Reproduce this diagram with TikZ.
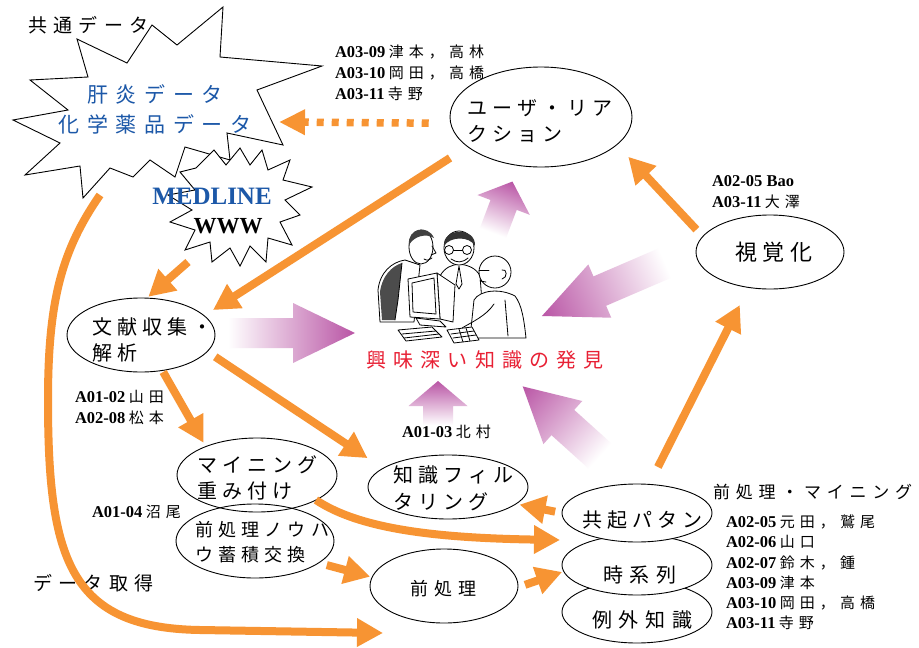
\documentclass[tikz,border=0pt]{standalone}
\usepackage{fontspec}
\setmainfont{Noto Sans CJK JP}
\newfontfamily\lat{Liberation Serif}
\newfontfamily\jpA{Noto Sans CJK JP}[LetterSpace=26]
\newfontfamily\jpB{Noto Sans CJK JP}[LetterSpace=34]
\newfontfamily\jpK{Noto Sans CJK JP}[LetterSpace=29]
\newfontfamily\jpC{Noto Sans CJK JP}[LetterSpace=36]
\newfontfamily\jpL{Noto Sans CJK JP}[LetterSpace=34]
\usetikzlibrary{arrows.meta,shapes.geometric}

\definecolor{aorange}{RGB}{247,148,51}
\definecolor{apurple}{RGB}{185,85,165}
\definecolor{jblue}{RGB}{28,88,168}
\definecolor{jred}{RGB}{232,32,52}

\tikzset{
  bub/.style={draw=black, line width=0.9pt, fill=white, ellipse, inner sep=0pt, outer sep=0pt},
  bubopen/.style={draw=black, line width=0.9pt, ellipse, inner sep=0pt, outer sep=0pt},
  txt/.style={inner sep=0pt, outer sep=0pt, anchor=west, align=left},
  bubtext/.style={txt, font=\jpA\fontsize{20}{26}\selectfont},
  labtext/.style={txt, font=\fontsize{15}{21}\selectfont},
  flow/.style={draw=aorange, line width=8pt, -{Triangle[length=26pt,width=27pt]}},
  dotflow/.style={draw=aorange, line width=7.5pt, dash pattern=on 7pt off 8pt,
                  -{Triangle[length=26pt,width=24pt]}},
  burst/.style={draw=black, line width=0.9pt, fill=white, line join=miter},
  sketch/.style={draw=black, line width=0.8pt, line join=round, line cap=round}
}

% broad shaded arrow: tail x, tail y, angle, length, head length, shaft half width, head half width
\newcommand\fatarrow[7]{%
  \begin{scope}[transform canvas={shift={(#1,#2)},rotate=#3}]
    \shade[left color=white,right color=apurple]
      (0,-#6) -- ({#4-#5},-#6) -- ({#4-#5},-#7) -- (#4,0)
      -- ({#4-#5},#7) -- ({#4-#5},#6) -- (0,#6) -- cycle;
  \end{scope}}

\newcommand\latb{\lat\bfseries\fontsize{16.5}{21}\selectfont}
\newcommand\lab[2]{{\latb #1} {\jpL #2}}

\begin{document}
\begin{tikzpicture}[x=1pt,y=-1pt]
\useasboundingbox (0,0) rectangle (919,648);
\fill[white] (0,0) rectangle (919,648);

% ---- shared data burst ----
\draw[burst] (152,25) -- (177,45) -- (223,7) -- (220,57) -- (322,66) -- (257,90)
  -- (283,145) -- (227,133) -- (230,160) -- (185,147) -- (175,177) -- (150,160)
  -- (133,177) -- (110,168) -- (83,198) -- (80,166) -- (25,175) -- (60,143)
  -- (13,120) -- (68,110) -- (30,80) -- (88,77) -- (77,39) -- (127,63) -- cycle;
\coordinate (burst-in) at (279,122);
\coordinate (burst-out) at (100,195);
\node[txt, anchor=center, align=center, text=jblue, font=\jpC\fontsize{21}{30}\selectfont]
  (burst-t) at (155,109) {肝炎データ\\化学薬品データ};
\node[txt, font=\jpB\fontsize{19}{22}\selectfont] (common-t) at (28,25) {共通データ};

% ---- MEDLINE / WWW burst ----
\draw[burst] (196,168) -- (214,150) -- (226,165) -- (240,148) -- (250,165) -- (262,150)
  -- (268,170) -- (290,160) -- (283,180) -- (312,187) -- (285,200) -- (300,215)
  -- (280,222) -- (292,245) -- (268,238) -- (266,262) -- (250,246) -- (240,266)
  -- (230,248) -- (212,262) -- (210,242) -- (185,250) -- (195,230) -- (170,222)
  -- (192,210) -- (168,195) -- (195,190) -- (180,172) -- cycle;
\coordinate (www-out) at (188,262);
\node[inner sep=0pt, text=jblue, font=\lat\bfseries\fontsize{25}{25}\selectfont]
  (medline-t) at (212,196) {MEDLINE};
\node[inner sep=0pt, font=\lat\bfseries\fontsize{23}{23}\selectfont]
  (www-t) at (228,226) {WWW};

% ---- broad arrows towards the discovery ----
\fatarrow{228}{333}{0}{127}{62}{15}{30}
\fatarrow{493}{233}{69.3}{55}{25}{14}{28}
\fatarrow{665}{263}{203.3}{134}{63}{16}{29}
\fatarrow{438}{425}{90}{44}{25}{15}{29.5}
\fatarrow{600}{456}{138}{104}{54}{17}{29}

% ---- people at the computer ----
\begin{scope}[sketch]
  % middle man
  \draw[fill=white] (437,302) -- (440,276) .. controls (445,267) and (452,265) .. (459,264)
    .. controls (468,265) and (476,268) .. (480,276) -- (482,302);
  \draw[fill=white] (459,248) ellipse (15 and 17);
  \fill[black!80] (444,246) .. controls (442,228) and (476,226) .. (475,246)
    .. controls (470,236) and (450,236) .. cycle;
  \draw (449,250) circle (4.5); \draw (467,250) circle (4.5); \draw (453.5,250) -- (462.5,250);
  \draw (451,259) .. controls (457,263) and (462,263) .. (468,258);
  \draw (459,266) -- (456,284) -- (459,289) -- (462,284) -- cycle;
  % left man
  \draw[fill=white] (380,322) -- (378,290) .. controls (380,272) and (392,262) .. (405,260)
    -- (420,265) -- (414,322) -- cycle;
  \fill[black!70] (382,320) -- (380,292) .. controls (382,276) and (392,266) .. (402,263)
    -- (398,300) -- (395,320) -- cycle;
  \draw (402,263) -- (398,300) -- (395,320);
  \draw[fill=white] (421,247) ellipse (12 and 17);
  \fill[black!75] (409,245) .. controls (407,228) and (428,224) .. (434,238)
    .. controls (426,233) and (414,236) .. cycle;
  \draw (432,246) -- (436,253) -- (431,255);
  \draw (424,259) .. controls (427,261) and (430,260) .. (432,258);
  % right man
  \draw[fill=white] (470,338) -- (474,300) .. controls (480,290) and (500,288) .. (515,296)
    .. controls (522,305) and (524,320) .. (526,338) -- cycle;
  \draw[fill=white] (495,272) circle (16);
  \draw (502,270) .. controls (507,268) and (508,278) .. (502,279);
  \draw (479,270) -- (489,270);
  \draw (480,281) -- (486,282);
  \draw (494,304) .. controls (486,316) and (472,322) .. (462,328);
  \draw (505,300) -- (508,336);
  % monitor
  \draw[fill=white] (437,273) -- (455,285) -- (453,322) -- (440,319) -- cycle;
  \draw[fill=white] (408,279) -- (437,273) -- (440,319) -- (410,317) -- cycle;
  \draw (412,283) -- (434,278) -- (436,314) -- (413,312) -- cycle;
  \draw[fill=white] (416,318) -- (440,321) -- (446,327) -- (420,325) -- cycle;
  % keyboards
  \draw[fill=white] (398,330) -- (432,327) -- (442,337) -- (406,341) -- cycle;
  \draw (402,334) -- (436,331); \draw (404,338) -- (439,334);
  \draw[fill=white] (447,330) -- (472,327) -- (479,340) -- (454,343) -- cycle;
  \draw (451,334) -- (474,331); \draw (453,338) -- (476,335);
  \draw (459,329) -- (463,342); \draw (466,328) -- (470,341);
\end{scope}
\node[inner sep=0pt, text=jred, font=\jpC\fontsize{20}{24}\selectfont, anchor=west]
  (disc-t) at (366,360) {興味深い知識の発見};

% ---- process ellipses ----
\node[bub, minimum width=182pt, minimum height=100pt] (user) at (541,117) {};
\node[bubtext] (user-t) at (467,121.5) {ユーザ・リア\\クション};
\node[bub, minimum width=148pt, minimum height=74pt] (vis) at (770,252) {};
\node[txt, font=\jpA\fontsize{22}{26}\selectfont] (vis-t) at (735,252) {視覚化};
\node[bub, minimum width=148pt, minimum height=74pt] (lit) at (141,335) {};
\node[bubtext] (lit-t) at (92,340) {文献収集・\\解析};
\node[bubopen, minimum width=158pt, minimum height=74pt] (know) at (255,541) {};
\node[txt, font=\jpK\fontsize{18}{25}\selectfont] (know-t) at (195,542.5) {前処理ノウハ\\ウ蓄積交換};
\node[bubopen, minimum width=160pt, minimum height=74pt] (mining) at (257,475) {};
\node[bubtext] (mining-t) at (197,477.5) {マイニング\\重み付け};
\node[bub, minimum width=160pt, minimum height=64pt] (filt) at (448,487) {};
\node[bubtext, font=\jpA\fontsize{20}{27}\selectfont] (filt-t) at (393,488.5) {知識フィル\\タリング};
\node[bub, minimum width=148pt, minimum height=74pt] (pre) at (444,586) {};
\node[txt, font=\jpB\fontsize{18}{22}\selectfont] (pre-t) at (410,589) {前処理};
\node[bub, minimum width=150pt, minimum height=62pt] (exc) at (637,612) {};
\node[bub, minimum width=150pt, minimum height=60pt] (time) at (637,565) {};
\node[bub, minimum width=150pt, minimum height=58pt] (co) at (637,513) {};
\node[bubtext] (co-t) at (582,520) {共起パタン};
\node[txt, font=\jpB\fontsize{20}{24}\selectfont] (time-t) at (603,575) {時系列};
\node[txt, font=\jpB\fontsize{20}{24}\selectfont] (exc-t) at (592,620) {例外知識};

% ---- member labels ----
\node[labtext] (lab-user) at (335,73)
  {\lab{A03-09}{津本，高林}\\\lab{A03-10}{岡田，高橋}\\\lab{A03-11}{寺野}};
\node[labtext] (lab-vis) at (712,192) {{\latb A02-05 Bao}\\\lab{A03-11}{大澤}};
\node[labtext] (lab-lit) at (75,407) {\lab{A01-02}{山田}\\\lab{A02-08}{松本}};
\node[labtext] (lab-know) at (92,512) {\lab{A01-04}{沼尾}};
\node[labtext] (lab-filt) at (402,432) {\lab{A01-03}{北村}};
\node[txt, font=\jpB\fontsize{17}{20}\selectfont] (lab-pm) at (713,492) {前処理・マイニング};
\node[labtext, font=\fontsize{15}{20.2}\selectfont] (lab-co) at (726,572.5)
  {\lab{A02-05}{元田，鷲尾}\\\lab{A02-06}{山口}\\\lab{A02-07}{鈴木，鍾}\\
   \lab{A03-09}{津本}\\\lab{A03-10}{岡田，高橋}\\\lab{A03-11}{寺野}};
\node[txt, font=\jpB\fontsize{19}{22}\selectfont] (acq-t) at (33,583) {データ取得};

% ---- flows ----
\coordinate (data-end) at (383,633);
\draw[flow] (burst-out) .. controls (62,250) and (48,300) .. (48,400)
  .. controls (48,560) and (70,628) .. (200,630) -- (data-end);
\draw[dotflow, shorten <=22pt] (user.184) -- (burst-in);
\draw[flow, shorten <=21pt, shorten >=10.5pt] (user.202) -- (lit.17);
\draw[flow, shorten >=2pt] (www-out) -- (lit.81);
\draw[flow, shorten <=9.4pt, shorten >=16.7pt] (vis.167) -- (user.340);
\draw[flow, shorten <=19.5pt, shorten >=19.7pt] (co.67) -- (vis.239);
\draw[flow, shorten <=1.8pt, shorten >=4.4pt] (lit.301) -- (mining.151);
\draw[flow, shorten <=9.6pt, shorten >=18.5pt] (lit.346) -- (filt.164);
\draw[flow] (mining.337) .. controls +(45,30) and +(-120,-2) .. ([shift={(-77,27)}]co.center);
\draw[flow, shorten <=8.4pt, shorten >=2pt] (know.341) -- (pre.173);
\draw[flow, shorten <=7.5pt, shorten >=1.7pt] (pre.359) -- (time.185);
\draw[flow, shorten <=7pt, shorten >=3.7pt] (co.180) -- (filt.346);
\end{tikzpicture}
\end{document}
